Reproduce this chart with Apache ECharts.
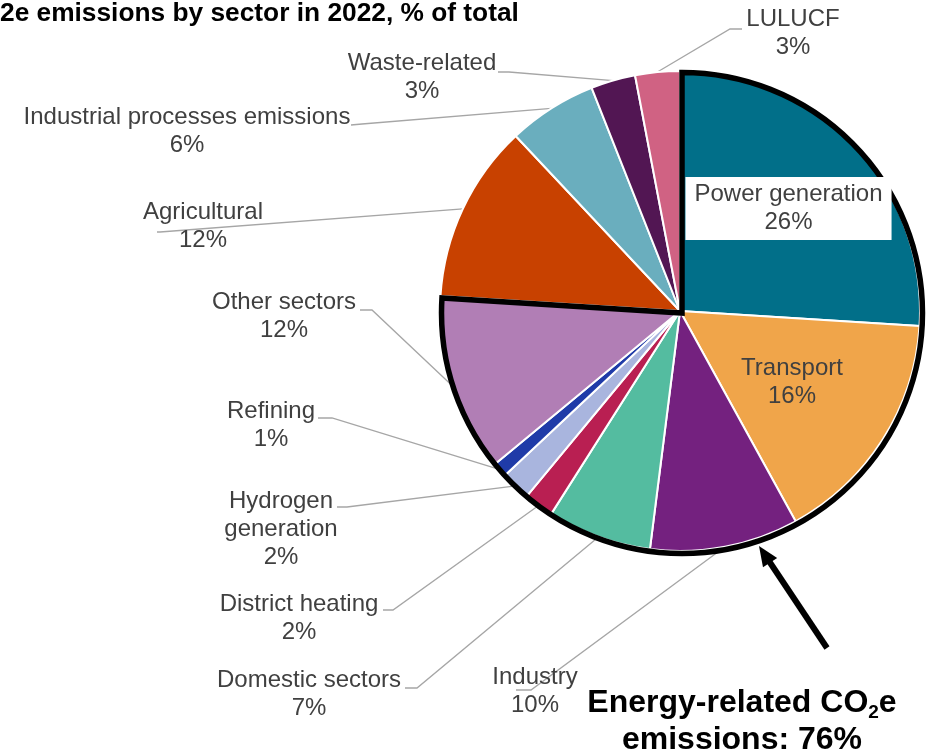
<!DOCTYPE html>
<html>
<head>
<meta charset="utf-8">
<script src="https://cdn.jsdelivr.net/npm/echarts@6/dist/echarts.min.js"></script>
<style>
  html, body { margin: 0; padding: 0; background: #ffffff; }
  #chart { width: 935px; height: 754px; }
</style>
</head>
<body>
<div id="chart"></div>
<script>
// Sectors in clockwise order from 12 o'clock; the first eight are energy-related.
const sectors = [
  'Power generation', 'Transport', 'Industry', 'Domestic sectors',
  'District heating', 'Hydrogen\ngeneration', 'Refining', 'Other sectors',
  'Agricultural', 'Industrial processes emissions', 'Waste-related', 'LULUCF'
];
const shares = [26, 16, 10, 7, 2, 2, 1, 12, 12, 6, 3, 3];
const energySectorCount = 8;

const sectorColors = [
  '#016F89', '#F0A54A', '#74217F', '#54BCA0',
  '#B91F52', '#A9B5DE', '#1F3BA8', '#B17EB5',
  '#C84100', '#6AAEBE', '#521653', '#D06283'
];

// Where each label block sits, plus the elbow and end of its leader line.
const labelSpots = [
  { at: [788.5, 208.5] },
  { at: [792, 382] },
  { at: [535, 691], line: [[531, 690], [516, 690]] },
  { at: [309, 694], line: [[417, 688], [405, 688]] },
  { at: [299, 618], line: [[393, 610], [383, 610]] },
  { at: [281, 529], line: [[347, 507], [337, 507]] },
  { at: [271, 425], line: [[332, 418], [318, 418]] },
  { at: [284, 316], line: [[372, 310], [360, 310]] },
  { at: [203, 226], line: [[160, 232], [157, 232]] },
  { at: [187, 131], line: [[362, 124], [351, 125]] },
  { at: [422, 77], line: [[509, 72], [498, 72]] },
  { at: [793, 33], line: [[730, 29], [742, 29]] }
];

const FONT = "'Liberation Sans', Arial, Helvetica, sans-serif";
const energyTotal = shares.slice(0, energySectorCount).reduce((a, b) => a + b, 0);
const otherTotal = shares.slice(energySectorCount).reduce((a, b) => a + b, 0);

const pieData = sectors.map((name, i) => {
  const item = { name: name, value: shares[i], itemStyle: { color: sectorColors[i] } };
  if (i === 0) {
    item.label = { position: 'inside', backgroundColor: '#ffffff', padding: [4, 9, 3, 9] };
    item.labelLine = { show: false };
  } else if (i === 1) {
    item.label = { position: 'inside' };
    item.labelLine = { show: false };
  }
  return item;
});

// Arrow pointing at the energy-related outline.
const arrowTip = [759, 546];
const arrowTail = [827, 648];
const arrowGraphics = (function () {
  const dx = arrowTip[0] - arrowTail[0], dy = arrowTip[1] - arrowTail[1];
  const len = Math.sqrt(dx * dx + dy * dy);
  const ux = dx / len, uy = dy / len;
  const px = -uy, py = ux;
  const headLen = 20, headHalf = 8.5;
  const bx = arrowTip[0] - ux * headLen, by = arrowTip[1] - uy * headLen;
  return [
    {
      type: 'line', silent: true,
      shape: { x1: arrowTail[0], y1: arrowTail[1], x2: bx + ux * 2, y2: by + uy * 2 },
      style: { stroke: '#000000', lineWidth: 6 }
    },
    {
      type: 'polygon', silent: true,
      shape: { points: [arrowTip, [bx + px * headHalf, by + py * headHalf], [bx - px * headHalf, by - py * headHalf]] },
      style: { fill: '#000000' }
    }
  ];
})();

const chart = echarts.init(document.getElementById('chart'), null, { renderer: 'canvas' });

chart.setOption({
  animation: false,
  backgroundColor: '#ffffff',
  graphic: [
    {
      type: 'text', silent: true, left: 0, top: 1,
      style: {
        text: '2e emissions by sector in 2022, % of total',
        font: 'bold 26.3px ' + FONT, fill: '#000000'
      }
    },
    {
      type: 'text', silent: true, z: 10,
      style: {
        x: 742, y: 722, align: 'center', verticalAlign: 'middle',
        text: '{m|Energy-related CO}{s|2}{m|e}\n{m|emissions: ' + energyTotal + '%}',
        rich: {
          m: { fontSize: 32, fontWeight: 'bold', fontFamily: FONT, lineHeight: 37, fill: '#000000' },
          s: { fontSize: 19, fontWeight: 'bold', fontFamily: FONT, lineHeight: 22, fill: '#000000', verticalAlign: 'bottom' }
        }
      }
    }
  ].concat(arrowGraphics),
  series: [
    {
      type: 'pie',
      center: [680, 311],
      radius: 240,
      startAngle: 90,
      clockwise: true,
      avoidLabelOverlap: false,
      silent: true,
      z: 2,
      itemStyle: { borderColor: '#ffffff', borderWidth: 2 },
      label: {
        show: true,
        formatter: '{b}\n{c}%',
        fontFamily: FONT,
        fontSize: 24,
        lineHeight: 28,
        color: '#404040'
      },
      labelLine: {
        show: true, length: 10, length2: 10,
        lineStyle: { color: '#A6A6A6', width: 1.3 }
      },
      labelLayout: function (p) {
        const spot = labelSpots[p.dataIndex];
        const out = { x: spot.at[0], y: spot.at[1], align: 'center', verticalAlign: 'middle' };
        if (spot.line && p.labelLinePoints) {
          out.labelLinePoints = [p.labelLinePoints[0], spot.line[0], spot.line[1]];
        }
        return out;
      },
      data: pieData
    },
    {
      // Outline around the energy-related share
      type: 'pie',
      center: [682, 313],
      radius: 240.5,
      startAngle: 90,
      clockwise: true,
      silent: true,
      z: 2,
      label: { show: false },
      labelLine: { show: false },
      data: [
        { name: 'Energy-related', value: energyTotal,
          itemStyle: { color: 'rgba(0,0,0,0)', borderColor: '#000000', borderWidth: 5.5, borderJoin: 'miter' } },
        { name: 'Non-energy', value: otherTotal,
          itemStyle: { color: 'rgba(0,0,0,0)', borderWidth: 0 } }
      ]
    }
  ]
});
</script>
</body>
</html>
